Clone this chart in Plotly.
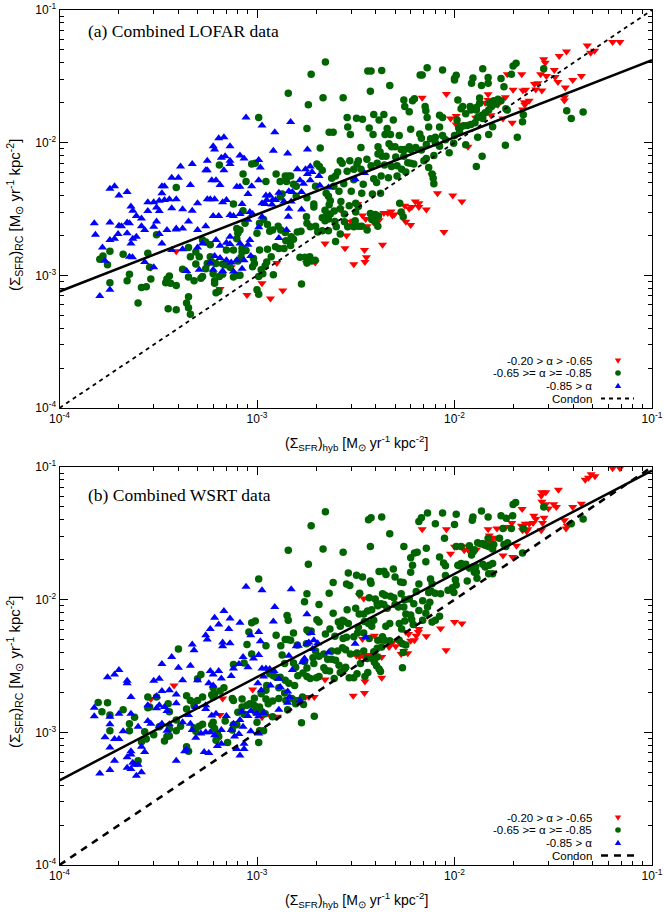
import plotly.graph_objects as go

# All surface densities below are in units of 1e-3 M_sun yr^-1 kpc^-2, as (hyb, RC) pairs.
UNIT = 1e-3

# ---------------- (a) Combined LOFAR data ----------------
LOFAR_FLAT = [  # -0.20 > alpha > -0.65
    (0.39, 1.52), (0.29, 1.14), (0.74, 1.15), (0.89, 0.71), (0.65, 0.79),
    (6.86, 21.8), (9.1, 23.3), (9.55, 15.2), (7.7, 5.7), (9.8, 4.0), (2.64, 3.13), (3.0, 2.53), (3.09, 2.58),
    (3.42, 2.82), (3.55, 2.66), (3.61, 2.34), (3.9, 2.5), (4.15, 2.6), (4.39, 2.95), (4.59, 2.95), (4.77, 3.03),
    (4.96, 2.87), (5.6, 3.35), (5.9, 3.17), (6.07, 3.28), (6.33, 3.6), (6.6, 3.5), (6.6, 3.28), (7.2, 3.13),
    (8.2, 4.15), (4.85, 2.82), (5.37, 2.9), (5.67, 2.53), (6.0, 2.4), (3.23, 3.45), (2.84, 2.0), (2.21, 1.74),
    (2.79, 1.6), (3.5, 1.55), (3.58, 1.37), (3.52, 1.26), (4.32, 1.7), (3.09, 1.21), (1.97, 1.25), (1.78, 1.24),
    (1.26, 1.24), (1.35, 0.77), (1.17, 0.67), (1.06, 0.87), (8.84, 2.12), (3.84, 2.87),
    (14.8, 23.2), (14.8, 21), (14.3, 20), (16.2, 20.2), (16.6, 19.3), (18.1, 22), (18.5, 32.8), (19.8, 25),
    (21.9, 32.8), (22.2, 24.7), (22.9, 25), (23.9, 20.7), (22.7, 19.3), (25.4, 27.7), (25.8, 25.2), (26.4, 28),
    (27.7, 24.7), (28.3, 42.5), (28.8, 40), (27.3, 32.8), (29.2, 31.8), (32, 35.3), (32.3, 31.2), (33.4, 28.7),
    (33.9, 45), (36.9, 48.7), (36.4, 26.1), (36, 22), (36, 20.8), (39.7, 29.7), (43.9, 31.8), (47, 54.1),
    (48.9, 47.7), (51.2, 49.4), (63.2, 57.4), (68.8, 57.4), (17.6, 15.2), (19.6, 14.1), (22.1, 17.8),
    (11.7, 9.3), (10.9, 3.6), (14.1, 16.1), (13.5, 16.1), (15.3, 16.1), (12.8, 15.4), (10.2, 15.9),
    (10.2, 13.7), (22.6, 20.2),
]

LOFAR_MID = [  # -0.65 >= alpha >= -0.85
    (0.645, 6.8), (0.85, 5.8), (0.88, 5.1), (0.94, 6.9), (0.98, 7.0), (0.39, 4.6), (0.76, 3.45), (0.85, 3.07),
    (0.31, 2.02), (0.28, 1.47), (0.21, 1.44), (0.18, 1.52), (0.16, 1.32), (0.166, 1.4), (0.175, 1.2),
    (0.286, 1.15), (0.226, 1.02), (0.22, 0.91), (0.18, 0.88), (0.29, 0.94), (0.26, 0.81), (0.275, 0.82),
    (0.25, 0.62), (0.36, 0.99), (0.35, 0.94), (0.345, 0.88), (0.365, 0.87), (0.39, 0.84), (0.42, 1.11),
    (0.45, 0.97), (0.48, 0.91), (0.45, 0.69), (0.44, 0.62), (0.45, 0.57), (0.46, 0.51), (0.39, 0.55),
    (0.355, 0.56), (0.53, 0.98), (0.52, 0.95), (0.55, 1.12), (0.56, 1.23), (0.58, 1.38), (0.59, 1.26),
    (0.55, 1.78), (0.53, 1.85), (0.45, 1.62), (0.46, 1.38), (0.49, 1.22), (0.51, 1.38), (0.60, 1.03),
    (0.61, 0.91), (0.61, 0.87), (0.62, 0.74), (0.64, 0.76), (0.67, 1.02), (0.67, 1.22), (0.69, 1.2),
    (0.73, 1.15), (0.76, 0.97), (0.79, 1.0), (0.82, 1.0), (0.80, 1.28), (0.83, 1.37), (0.84, 1.6), (0.84, 1.5),
    (0.88, 1.54), (0.96, 1.34), (0.95, 1.16), (0.97, 1.23), (1.0, 0.78), (0.80, 2.08), (0.79, 1.89),
    (0.79, 2.25), (0.82, 2.2), (0.87, 2.47), (1.0, 2.08), (0.49, 1.5), (0.62, 1.23), (0.58, 1.7), (0.70, 1.55),
    (0.76, 1.55), (0.645, 0.98),
    (2.22, 40.6), (1.88, 32.8), (3.64, 34.7), (3.78, 34.7), (4.28, 35), (7.27, 36.7), (8.7, 35.3), (10, 30.4),
    (6.7, 32.4), (6.86, 32.4), (4.7, 27), (1.44, 23.6), (2.16, 21.8), (2.73, 21.8), (3.75, 24.4), (1.82, 19.3),
    (5.54, 21), (6.13, 20.7), (6.27, 21.4), (5.6, 18.7), (5.9, 17.1), (7.1, 18.7), (7.16, 17.4), (2.86, 15.5),
    (3.19, 15.3), (3.42, 15.0), (3.9, 16.3), (4.15, 14.8), (4.39, 16.3), (4.9, 14.8), (8.4, 16.1), (8.7, 15.5),
    (7.27, 15.5), (7.4, 13.1), (2.88, 13.1), (2.97, 11.5), (1.02, 15.5), (1.79, 12.8), (2.32, 12.0),
    (2.43, 12.0), (3.7, 12.9), (3.87, 11.5), (4.56, 12.8), (4.45, 11.5), (4.74, 11.5), (5.25, 11.3),
    (6.0, 12.6), (6.67, 11.6), (6.8, 10.8), (7.56, 10.7), (8.0, 11.0), (8.4, 13.1), (8.7, 11.3), (2.09, 9.1),
    (3.36, 9.2), (4.1, 9.3), (4.2, 8.5), (4.66, 9.8), (4.8, 9.3), (5.0, 9.3), (5.37, 8.9), (5.6, 8.9),
    (5.9, 9.3), (6.0, 8.9), (6.36, 9.2), (6.8, 8.8), (7.2, 9.7), (8.0, 10), (8.4, 9.4), (9.0, 10.5),
    (9.4, 8.4), (9.9, 9.9), (2.95, 7.3), (2.64, 7.3), (2.7, 7.0), (3.26, 7.3), (3.6, 7.5), (4.1, 8.2),
    (4.3, 7.9), (4.5, 7.9), (5.04, 7.8), (5.54, 7.9), (5.8, 7.07), (6.0, 7.0), (7.0, 7.3), (7.2, 7.6),
    (7.86, 8.0), (2.01, 6.9), (2.07, 6.6), (2.14, 6.2), (2.56, 6.0), (2.86, 6.1), (3.09, 6.3), (3.21, 6.9),
    (3.36, 6.3), (3.78, 6.7), (4.06, 7.0), (4.42, 6.8), (4.8, 6.6), (5.12, 6.7), (5.4, 6.3), (5.67, 6.0),
    (6.22, 6.9), (7.4, 6.5), (7.7, 5.8), (7.8, 5.4), (7.86, 4.9), (1.25, 5.8), (1.39, 5.6), (1.44, 5.6),
    (1.48, 5.6), (1.31, 5.1), (1.41, 5.1), (1.11, 5.1), (1.53, 4.85), (1.58, 4.7), (2.5, 5.6), (2.39, 5.4),
    (2.45, 4.7), (2.75, 4.9), (3.09, 5.25), (3.45, 4.85), (3.9, 5.35), (4.03, 5.0), (4.25, 5.6), (4.63, 5.45),
    (5.12, 5.6), (1.98, 4.7), (2.24, 4.15), (2.3, 3.95), (2.6, 4.3), (3.0, 4.3), (3.39, 4.15), (3.84, 4.1),
    (4.22, 4.15), (1.34, 4.1), (1.31, 3.9), (1.58, 3.95), (1.79, 3.85), (1.94, 3.45), (1.94, 3.28),
    (2.35, 3.65), (2.32, 3.4), (2.21, 3.1), (2.26, 2.9), (2.35, 2.9), (2.46, 3.05), (2.66, 3.6), (2.93, 3.35),
    (3.16, 3.5), (2.64, 3.17), (2.77, 2.9), (3.16, 3.0), (3.26, 3.3), (3.75, 2.93), (3.84, 2.77), (3.97, 2.53),
    (4.09, 2.34), (3.97, 2.87), (4.12, 2.8), (3.81, 2.63), (2.77, 2.53), (2.88, 2.32), (3.09, 2.32),
    (2.48, 2.55), (2.52, 2.32), (2.14, 2.72), (2.21, 2.58), (2.3, 2.66), (1.78, 2.77), (1.79, 2.47),
    (1.86, 2.32), (1.98, 2.34), (2.03, 2.12), (2.14, 2.17), (2.3, 2.17), (2.64, 2.05), (3.14, 2.58),
    (3.26, 2.34), (3.39, 2.34), (5.28, 3.5), (5.37, 3.0), (5.5, 2.77), (3.61, 2.2), (1.03, 2.47), (1.08, 2.63),
    (1.13, 2.42), (1.16, 2.15), (1.2, 2.2), (1.28, 2.34), (1.32, 2.2), (1.39, 2.1), (1.49, 1.95), (1.6, 2.12),
    (1.67, 2.15), (1.4, 1.82), (1.48, 1.85), (1.53, 1.87), (1.24, 1.64), (1.29, 1.59), (1.37, 1.59),
    (1.48, 1.68), (1.03, 1.55), (1.13, 1.57), (1.18, 1.38), (1.12, 1.26), (1.1, 1.18), (1.05, 1.1),
    (1.02, 0.98), (1.07, 1.03), (1.21, 1.01), (1.02, 0.72), (1.68, 0.86), (1.65, 1.37), (1.75, 1.37),
    (1.85, 1.38), (1.97, 1.3), (1.89, 1.28), (1.79, 1.24), (2.5, 1.8),
    (10.2, 32.2), (10, 29.7), (12.4, 30.7), (12.2, 28), (13.7, 27), (14.8, 28), (14.8, 31), (13.9, 36.1),
    (19.8, 37.8), (20.5, 39.6), (17.2, 30.4), (17.8, 26.4), (19.4, 32.8), (28.3, 36.1), (10.4, 21), (11, 18.7),
    (10.8, 18), (11.4, 16.5), (12, 18.7), (12.1, 17.6), (12.5, 18), (12.9, 18.4), (12.9, 17.6), (13.4, 21.7),
    (13.4, 19.8), (13.1, 15.5), (13.8, 16.1), (14.3, 16.8), (14.9, 17.6), (15, 19.8), (15.8, 20.7),
    (16.2, 19.6), (16.6, 21.2), (17.2, 20.7), (15.4, 18.7), (10.3, 14.8), (10.5, 12.9), (10.8, 13.2),
    (11.1, 13.4), (11.6, 13.5), (12.1, 13.7), (12.7, 14.1), (13.9, 15.2), (15.6, 13.2), (10, 11.3), (10.6, 12),
    (13.1, 11), (14.9, 11.5), (18.2, 18), (18.5, 17.6), (22.3, 16.2), (22.1, 14.4), (20.8, 11), (18.1, 9.55),
    (11.4, 9.65), (13.8, 7.9), (12.9, 6.6), (37, 17.4), (39, 15.2), (44.8, 17.0),
]

LOFAR_STEEP = [  # -0.85 > alpha
    (0.88, 15.5), (0.64, 10.8), (0.68, 11.0), (0.60, 9.4), (0.61, 8.9), (0.73, 9.4), (0.56, 7.3), (0.66, 7.7),
    (0.69, 7.9), (0.73, 7.3), (0.73, 6.9), (0.82, 8.0), (0.86, 7.6), (0.47, 6.9), (0.56, 6.2), (0.55, 6.2),
    (0.68, 6.2), (0.41, 6.6), (0.37, 5.45), (0.40, 5.45), (0.46, 4.8), (0.59, 5.2), (0.62, 5.2), (0.65, 4.8),
    (0.79, 4.65), (0.82, 4.65), (0.94, 4.7), (0.18, 4.5), (0.19, 4.7), (0.20, 4.0), (0.22, 4.25), (0.33, 4.7),
    (0.34, 4.7), (0.33, 4.15), (0.39, 3.74), (0.37, 3.2), (0.42, 3.15), (0.47, 3.07), (0.50, 3.5), (0.56, 3.75),
    (0.58, 3.75), (0.61, 3.75), (0.67, 3.55), (0.70, 3.7), (0.84, 3.45), (0.90, 4.1), (0.92, 3.0), (0.23, 3.3),
    (0.235, 3.07), (0.245, 2.8), (0.26, 2.68), (0.28, 3.55), (0.30, 3.55), (0.32, 3.65), (0.31, 3.25),
    (0.32, 3.05), (0.28, 3.05), (0.34, 3.7), (0.36, 3.75), (0.15, 2.47), (0.18, 2.5), (0.20, 2.36),
    (0.206, 2.34), (0.22, 2.5), (0.226, 2.47), (0.26, 2.34), (0.31, 2.55), (0.30, 2.32), (0.35, 2.2),
    (0.39, 2.22), (0.42, 2.25), (0.45, 2.55), (0.50, 2.2), (0.55, 2.34), (0.60, 2.8), (0.64, 2.8), (0.73, 2.85),
    (0.76, 2.8), (0.82, 2.9), (0.90, 2.62), (0.95, 2.9), (0.152, 2.02), (0.19, 1.89), (0.198, 2.05),
    (0.22, 2.08), (0.235, 1.89), (0.23, 1.74), (0.245, 1.95), (0.27, 2.2), (0.32, 2.05), (0.39, 2.25),
    (0.165, 1.62), (0.18, 1.85), (0.226, 1.38), (0.234, 1.37), (0.27, 1.26), (0.30, 1.15), (0.33, 1.74),
    (0.37, 1.55), (0.42, 1.57), (0.50, 1.62), (0.53, 1.74), (0.62, 1.85), (0.65, 1.67), (0.70, 1.76),
    (0.73, 1.72), (0.73, 1.95), (0.82, 1.74), (0.90, 1.7), (0.92, 1.85), (0.17, 1.29), (0.58, 1.25),
    (0.65, 1.35), (0.70, 1.3), (0.74, 1.25), (0.79, 1.3), (0.86, 1.3), (0.93, 1.4), (0.44, 1.08), (0.51, 1.1),
    (0.60, 1.1), (0.67, 1.08), (0.76, 1.07), (0.84, 1.12), (0.16, 0.70), (0.18, 0.78), (0.61, 1.4),
    (1.06, 13.5), (1.23, 12), (1.48, 14.3), (1.21, 8.7), (1.43, 8.3), (1.8, 8.9), (1.02, 7.4), (1.04, 6.5),
    (1.6, 6.3), (1.76, 6.3), (1.86, 6.6), (1.9, 6.0), (1.8, 5.8), (2.06, 5.6), (1.02, 5.2), (1.65, 5.2),
    (1.72, 4.9), (1.86, 5.2), (2.08, 4.75), (2.3, 4.6), (3.14, 5.3), (3.5, 5.9), (1.29, 4.2), (1.45, 4.3),
    (1.51, 4.25), (1.68, 4.25), (1.11, 4.0), (1.16, 4.0), (1.12, 3.7), (1.2, 3.7), (1.24, 3.7), (1.06, 3.5),
    (1.1, 3.45), (1.19, 3.42), (1.37, 3.6), (1.49, 3.6), (1.45, 3.17), (1.68, 3.13), (1.06, 2.77),
    (1.44, 2.77), (1.41, 2.2), (1.29, 1.91), (1.02, 2.3),
]

# ---------------- (b) Combined WSRT data ----------------
WSRT_FLAT = [  # -0.20 > alpha > -0.65
    (0.29, 1.78), (0.38, 2.25), (0.67, 1.8), (0.65, 1.35), (0.88, 1.4), (0.95, 2.1),
    (6.86, 34), (9.1, 34), (9.55, 22.2), (3.29, 10.8), (3.47, 10.2), (3.42, 5.05), (3.93, 5.35), (4.25, 4.95),
    (4.74, 4.6), (4.66, 4.4), (4.85, 4.75), (5.04, 4.45), (5.28, 4.75), (5.67, 5.7), (5.85, 5.5), (6.0, 4.9),
    (6.27, 4.95), (6.4, 5.35), (6.56, 5.7), (6.6, 6.0), (7.2, 5.3), (7.76, 6.8), (8.5, 6.05), (9.06, 4.15),
    (5.37, 3.9), (5.54, 4.1), (5.8, 3.95), (4.28, 2.58), (4.28, 3.7), (3.75, 3.82), (3.84, 3.62), (4.03, 3.78),
    (3.61, 3.62), (3.45, 3.78), (3.31, 3.7), (3.19, 3.78), (3.09, 3.97), (2.81, 3.0), (2.68, 2.83),
    (2.21, 2.5), (3.52, 2.42), (3.5, 1.98), (3.07, 1.89), (1.95, 1.85), (1.83, 1.85), (1.76, 1.85),
    (1.17, 1.33), (1.27, 1.31), (1.06, 1.3),
    (10, 25), (11.2, 23.6), (11.7, 23.8), (11, 25.2), (12.9, 23.8), (14.8, 34), (15, 30.4), (14.8, 26.4),
    (15.2, 28), (15.7, 29), (16.2, 29.3), (16.4, 34.4), (17.6, 21.5), (18.2, 35.3), (19.5, 37.8), (19.7, 21),
    (20.6, 25.5), (21.8, 36.1), (22, 48.2), (22.1, 33.3), (22.8, 37.4), (23.2, 32.8), (23.5, 34), (23.9, 37.4),
    (25, 37.8), (25.2, 43), (25.8, 40.6), (27.5, 33.3), (27.9, 37.8), (28.4, 41.4), (27.7, 54.7), (27.7, 64.4),
    (29, 64.4), (27.5, 60.8), (29, 52.3), (29.9, 48.7), (31.8, 52.3), (32.8, 49.9), (33.6, 67.5), (36, 39.6),
    (36.7, 34.4), (37.2, 36.1), (39.7, 49.9), (43.9, 52.9), (45.9, 80.2), (47.7, 83.1), (49.2, 88), (51.4, 85),
    (63.2, 98), (68.8, 98), (11.8, 17.3), (10.9, 6.6), (10, 6.8), (13.9, 27),
]

WSRT_MID = [  # -0.65 >= alpha >= -0.85
    (0.98, 6.9), (0.94, 6.7), (0.91, 5.7), (0.89, 4.6), (0.94, 3.9), (0.86, 3.33), (0.76, 3.25), (0.40, 4.25),
    (0.52, 2.73), (0.50, 2.53), (0.60, 2.17), (0.65, 2.05), (0.68, 2.17), (0.44, 1.89), (0.46, 1.74),
    (0.48, 1.59), (0.50, 1.74), (0.53, 1.85), (0.59, 1.92), (0.60, 1.85), (0.61, 1.95), (0.157, 1.68),
    (0.164, 1.43), (0.175, 1.67), (0.18, 1.35), (0.21, 1.48), (0.28, 1.85), (0.28, 1.53), (0.31, 1.85),
    (0.355, 1.64), (0.36, 1.43), (0.44, 1.5), (0.39, 1.24), (0.41, 1.11), (0.39, 1.03), (0.36, 1.07),
    (0.36, 0.94), (0.34, 0.86), (0.35, 0.93), (0.30, 0.96), (0.275, 0.89), (0.27, 1.01), (0.26, 0.85),
    (0.226, 1.16), (0.226, 1.03), (0.18, 1.03), (0.25, 0.61), (0.44, 0.78), (0.45, 0.72), (0.48, 1.08),
    (0.51, 1.11), (0.53, 1.15), (0.59, 1.14), (0.60, 1.19), (0.61, 1.07), (0.63, 0.98), (0.64, 0.93),
    (0.62, 0.87), (0.69, 1.22), (0.71, 0.84), (0.75, 1.04), (0.76, 1.14), (0.79, 1.14), (0.80, 1.42),
    (0.84, 1.55), (0.86, 1.37), (0.89, 1.6), (0.92, 1.64), (0.97, 1.59), (0.97, 1.81), (0.98, 1.43),
    (1.0, 1.19), (0.84, 1.78), (0.75, 1.8), (0.76, 1.74), (0.49, 1.02), (0.286, 1.55), (0.32, 1.1), (0.24, 1.3),
    (2.22, 46), (1.88, 36.1), (3.67, 40), (3.78, 41.4), (4.28, 42), (7.3, 45), (8.7, 45), (6.8, 41.4),
    (6.6, 38.8), (8.0, 37.4), (4.7, 31.4), (1.44, 23.6), (2.16, 24.1), (2.73, 22.8), (3.75, 25.2), (1.82, 18.5),
    (8.9, 29), (5.54, 25.2), (6.27, 22.5), (6.47, 22.8), (6.0, 20.7), (6.13, 18.2), (7.16, 19.3), (7.2, 24.4),
    (8.4, 21), (8.8, 18.9), (9.0, 18), (2.9, 15.9), (3.19, 15.3), (3.42, 14.8), (3.75, 13.8), (3.78, 13.3),
    (4.39, 16.4), (4.5, 15.5), (4.15, 16.3), (4.9, 17), (5.0, 14.8), (5.33, 13.6), (5.5, 13.5), (6.0, 16.1),
    (6.6, 13.1), (7.56, 14.3), (7.7, 13.2), (9.0, 15.2), (1.02, 14.3), (1.79, 11.1), (2.32, 11.2), (2.43, 13.5),
    (2.84, 13.1), (2.95, 12.8), (3.31, 11.2), (3.7, 10.35), (3.97, 10.1), (4.06, 9.3), (4.32, 11.1),
    (4.45, 10.8), (4.74, 10.6), (4.93, 10.35), (5.37, 11.1), (5.6, 10), (5.9, 10.1), (6.22, 9.3), (6.4, 11.5),
    (6.9, 9.8), (7.4, 11.3), (7.6, 11.6), (7.97, 11.2), (8.5, 11.1), (9.27, 11.8), (9.76, 12.3), (9.93, 11.3),
    (1.74, 9.65), (1.42, 7.6), (1.44, 7.0), (2.06, 9.2), (2.43, 7.9), (2.86, 8.4), (3.16, 8.6), (3.29, 7.8),
    (3.47, 7.8), (3.63, 8.2), (3.81, 8.4), (4.09, 9.0), (4.25, 9.3), (4.39, 9.2), (4.56, 8.6), (5.0, 9.2),
    (5.2, 8.8), (5.54, 8.8), (5.67, 7.8), (6.0, 7.65), (6.6, 8.3), (7.16, 7.9), (7.3, 8.8), (7.5, 9.55),
    (2.01, 7.07), (2.06, 6.8), (2.34, 6.0), (2.58, 6.8), (2.71, 7.0), (2.64, 6.3), (2.77, 6.85), (2.9, 6.6),
    (3.26, 6.2), (3.5, 6.85), (3.67, 6.6), (3.81, 6.3), (3.9, 7.0), (4.49, 6.3), (4.7, 6.6), (5.25, 6.6),
    (5.4, 6.0), (5.6, 6.9), (6.18, 6.5), (6.07, 7.1), (6.9, 7.0), (7.7, 6.8), (8.0, 7.0), (8.4, 7.5),
    (1.25, 5.4), (1.32, 4.5), (1.39, 5.0), (1.43, 5.0), (1.48, 4.95), (1.53, 5.6), (1.6, 4.55), (1.78, 4.65),
    (1.79, 5.9), (1.83, 5.7), (1.88, 5.8), (1.11, 4.5), (2.22, 5.5), (2.48, 5.3), (2.73, 5.1), (2.84, 5.2),
    (3.09, 5.25), (3.23, 5.6), (3.47, 5.6), (3.7, 5.1), (4.09, 4.95), (4.32, 5.25), (4.42, 4.95), (4.7, 4.9),
    (5.25, 4.95), (5.45, 4.65), (5.5, 4.0), (5.67, 4.55), (1.98, 4.1), (2.06, 3.75), (2.18, 3.9), (2.39, 4.1),
    (2.56, 4.1), (2.71, 4.35), (2.81, 4.2), (2.97, 3.9), (3.21, 3.97), (3.47, 4.1), (3.9, 4.05), (4.06, 4.3),
    (4.28, 4.4), (1.34, 3.82), (1.38, 3.3), (1.53, 3.33), (1.57, 3.1), (1.74, 3.42), (1.79, 3.05), (1.92, 3.65),
    (1.94, 3.3), (2.28, 3.55), (2.39, 3.55), (2.5, 3.5), (2.6, 3.2), (2.81, 3.1), (3.34, 3.3), (3.61, 3.6),
    (3.84, 3.6), (3.93, 3.38), (4.03, 3.17), (4.15, 3.0), (4.22, 2.87), (4.06, 3.7), (2.18, 3.07), (2.23, 2.93),
    (2.33, 2.9), (2.46, 2.55), (2.64, 2.83), (2.77, 3.0), (2.93, 2.58), (3.09, 2.58), (3.21, 2.77), (3.52, 2.63),
    (3.64, 2.83), (5.45, 3.07), (1.16, 2.77), (1.21, 2.67), (1.25, 2.6), (1.31, 2.6), (1.39, 2.47), (1.45, 2.34),
    (1.55, 2.25), (1.61, 2.67), (1.71, 2.8), (1.79, 2.63), (1.86, 2.55), (2.06, 2.63), (1.12, 2.25), (1.05, 1.95),
    (1.11, 1.78), (1.14, 1.64), (1.2, 1.72), (1.29, 1.8), (1.38, 1.98), (1.4, 1.74), (1.5, 1.8), (1.56, 1.74),
    (1.63, 1.74), (1.03, 1.55), (1.06, 1.43), (1.1, 1.38), (1.03, 1.03), (1.08, 1.03), (1.02, 0.84), (1.2, 1.31),
    (1.43, 1.48), (1.68, 1.18), (1.95, 1.32), (1.57, 1.64), (1.7, 1.85), (1.72, 1.62), (2.0, 2.58), (1.11, 2.08),
    (1.29, 2.17),
    (10.2, 44), (10, 36.9), (12.4, 42), (12.3, 39.6), (13.7, 46.6), (14.8, 42), (18.3, 41), (19.7, 43),
    (19.8, 52.2), (20.4, 54.1), (17.2, 43), (17.6, 34.4), (19.4, 34.4), (28.3, 50), (10.2, 25.2), (10.8, 25.2),
    (11.9, 25.5), (12.2, 21.7), (12.4, 23), (12.6, 23.8), (13.1, 26.8), (13.5, 26.4), (13.9, 26.4), (14.2, 25.8),
    (14.6, 25.5), (14.8, 29), (15, 25), (15.4, 25.2), (15.6, 24.1), (15.8, 26.1), (16.9, 29), (17.8, 26.1),
    (18.2, 25.2), (18.6, 26.8), (10.4, 18.2), (10.6, 18), (10.8, 18.7), (11, 17.8), (11.4, 18.5), (11.9, 17.3),
    (12.4, 17.6), (12.8, 17.8), (12.6, 16.1), (12.9, 16.1), (13.0, 14.5), (13.9, 18.5), (14.3, 17.6),
    (15, 18.2), (14.9, 15.7), (15.6, 15.7), (15.6, 18.7), (10.1, 14.1), (10.2, 12.9), (11.6, 13.8),
    (22.3, 34.4), (22.1, 22.5), (39, 37.4), (44.8, 40.6),
]

WSRT_STEEP = [  # -0.85 > alpha
    (0.88, 12.5), (0.68, 8.2), (0.61, 7.3), (0.73, 7.2), (0.82, 6.7), (0.64, 6.5), (0.58, 6.0), (0.72, 6.0),
    (0.55, 5.4), (0.56, 5.0), (0.47, 4.6), (0.48, 4.15), (0.67, 4.75), (0.73, 4.7), (0.67, 4.45), (0.93, 5.4),
    (0.85, 3.7), (0.81, 3.28), (0.90, 3.1), (0.96, 3.6), (0.37, 3.7), (0.33, 3.28), (0.46, 3.17), (0.40, 3.07),
    (0.58, 2.9), (0.60, 2.73), (0.64, 2.9), (0.66, 2.55), (0.74, 2.66), (0.76, 3.03), (0.175, 2.6),
    (0.19, 2.73), (0.20, 2.95), (0.22, 2.45), (0.22, 2.34), (0.30, 2.45), (0.32, 2.53), (0.42, 2.47),
    (0.50, 2.47), (0.57, 2.34), (0.60, 2.25), (0.36, 2.08), (0.33, 2.05), (0.31, 1.87), (0.39, 1.93),
    (0.39, 1.66), (0.23, 1.85), (0.15, 1.53), (0.15, 1.32), (0.18, 1.31), (0.20, 1.38), (0.23, 1.38),
    (0.28, 1.6), (0.31, 1.52), (0.32, 1.6), (0.34, 1.55), (0.35, 1.45), (0.49, 1.55), (0.55, 1.5), (0.55, 1.6),
    (0.59, 1.34), (0.62, 1.38), (0.70, 1.33), (0.84, 1.43), (0.90, 1.33), (0.93, 1.45), (1.0, 1.38),
    (0.45, 1.35), (0.76, 1.16), (0.82, 1.24), (0.85, 1.1), (0.18, 1.15), (0.17, 0.92), (0.19, 0.89),
    (0.20, 0.89), (0.21, 1.02), (0.25, 1.1), (0.28, 1.22), (0.29, 1.16), (0.32, 1.11), (0.33, 1.16),
    (0.36, 1.15), (0.42, 1.19), (0.46, 1.16), (0.47, 1.04), (0.49, 0.91), (0.52, 0.98), (0.55, 1.0),
    (0.58, 1.0), (0.61, 0.95), (0.66, 1.04), (0.74, 1.04), (0.77, 0.93), (0.81, 0.97), (0.93, 1.02),
    (1.02, 0.98), (0.18, 0.77), (0.19, 0.61), (0.23, 0.72), (0.23, 0.68), (0.22, 0.65), (0.27, 0.71),
    (0.26, 0.78), (0.235, 0.59), (0.24, 0.57), (0.25, 0.57), (0.22, 0.54), (0.23, 0.53), (0.26, 0.50),
    (0.16, 0.49), (0.18, 0.52), (0.245, 0.47), (0.39, 0.61), (0.44, 0.74), (0.43, 0.72), (0.54, 0.71),
    (0.57, 0.70), (0.63, 0.79), (0.66, 0.82), (0.79, 0.75), (0.86, 0.75), (0.86, 0.82), (0.82, 0.67),
    (0.35, 1.03),
    (1.06, 11.8), (1.49, 12), (1.23, 8.8), (1.21, 6.85), (1.79, 7.75), (1.02, 5.7), (1.04, 4.85), (1.58, 4.45),
    (1.62, 4.5), (1.79, 4.65), (1.83, 4.75), (1.94, 4.95), (2.03, 4.7), (1.91, 4.25), (1.88, 5.6), (3.14, 4.65),
    (3.55, 5.2), (1.02, 3.82), (1.45, 3.78), (1.72, 3.5), (1.7, 3.38), (1.74, 3.6), (1.51, 2.95), (2.3, 4.0),
    (1.06, 3.03), (1.11, 3.03), (1.16, 3.0), (1.22, 2.9), (1.29, 2.53), (1.08, 2.63), (1.01, 2.34),
    (1.17, 2.25), (1.05, 2.08), (1.31, 2.2), (1.43, 2.03), (1.46, 1.85), (1.43, 1.67), (1.65, 1.74),
    (1.29, 1.48), (1.08, 1.4), (1.02, 1.32),
]

# Fitted relations and the Condon relation (end points, M_sun yr^-1 kpc^-2)
LINE_X = [1e-4, 1e-1]
LOFAR_FIT_Y = [7.55e-4, 4.19e-2]
WSRT_FIT_Y = [4.35e-4, 9.4e-2]
CONDON_Y = [1e-4, 1e-1]

LEGEND_LABELS = ["-0.20 > \u03b1 > -0.65", "-0.65 >= \u03b1 >= -0.85", "-0.85 > \u03b1", "Condon"]
PANEL_TITLES = ["(a) Combined LOFAR data", "(b) Combined WSRT data"]
MAJOR_TICKS = [1e-4, 1e-3, 1e-2, 1e-1]
MAJOR_TEXT = ["10<sup>-4</sup>", "10<sup>-3</sup>", "10<sup>-2</sup>", "10<sup>-1</sup>"]
MINOR_TICKS = [m * d for d in (1e-4, 1e-3, 1e-2) for m in range(2, 10)]

RED, GREEN, BLUE = "#ff0000", "#006400", "#0000ff"
W, H = 664, 912
SANS = "Liberation Sans"
SERIF = "Liberation Serif"


def px(x):
    return x / W


def py(y):
    return 1 - y / H


fig = go.Figure()

panels = [
    dict(xa="x", ya="y", data=(LOFAR_FLAT, LOFAR_MID, LOFAR_STEEP), fit=LOFAR_FIT_Y, cdash="4px,4px", cw=1.8,
         top=10, bot=408),
    dict(xa="x2", ya="y2", data=(WSRT_FLAT, WSRT_MID, WSRT_STEEP), fit=WSRT_FIT_Y, cdash="7px,6px", cw=2.6,
         top=467, bot=865),
]

styles = [("triangle-down", RED, 8), ("circle", GREEN, 7.5), ("triangle-up", BLUE, 8)]

for p in panels:
    for pts, (sym, col, size), name in zip(p["data"], styles, LEGEND_LABELS):
        fig.add_trace(go.Scatter(
            x=[a * UNIT for a, b in pts], y=[b * UNIT for a, b in pts], mode="markers", name=name,
            marker=dict(symbol=sym, color=col, size=size, line=dict(width=0)),
            xaxis=p["xa"], yaxis=p["ya"], showlegend=False, cliponaxis=True))
    fig.add_trace(go.Scatter(x=LINE_X, y=p["fit"], mode="lines", line=dict(color="black", width=2.5),
                             xaxis=p["xa"], yaxis=p["ya"], showlegend=False))
    fig.add_trace(go.Scatter(x=LINE_X, y=CONDON_Y, mode="lines",
                             line=dict(color="black", width=p["cw"], dash=p["cdash"]),
                             xaxis=p["xa"], yaxis=p["ya"], showlegend=False))


def axis(domain, anchor):
    return dict(
        type="log", range=[-4, -1], domain=domain, anchor=anchor, automargin=False,
        showline=True, linecolor="black", linewidth=1, mirror="ticks",
        ticks="inside", ticklen=8, tickwidth=1, tickcolor="black",
        tickmode="array", tickvals=MAJOR_TICKS, ticktext=MAJOR_TEXT,
        minor=dict(tickmode="array", tickvals=MINOR_TICKS, ticks="inside", ticklen=4, tickwidth=1,
                   tickcolor="black", showgrid=False),
        showgrid=False, zeroline=False,
        tickfont=dict(family=SANS, size=12, color="black"),
    )


XDOM = [px(59.5), px(652)]
fig.update_layout(
    width=W, height=H, margin=dict(l=0, r=0, t=0, b=0, autoexpand=False),
    paper_bgcolor="white", plot_bgcolor="white", showlegend=False,
    xaxis=axis(XDOM, "y"),
    yaxis=axis([py(408), py(10)], "x"),
    xaxis2=axis(XDOM, "y2"),
    yaxis2=axis([py(865), py(467)], "x2"),
)

XTITLE = "(\u03a3<sub>SFR</sub>)<sub>hyb</sub> [M<sub>\u2299</sub> yr<sup>-1</sup> kpc<sup>-2</sup>]"
YTITLE = "(\u03a3<sub>SFR</sub>)<sub>RC</sub> [M<sub>\u2299</sub> yr<sup>-1</sup> kpc<sup>-2</sup>]"

annotations = []
shapes = []
for i, p in enumerate(panels):
    top, bot = p["top"], p["bot"]
    annotations.append(dict(text=XTITLE, x=px(356), y=py(bot + 35), xref="paper", yref="paper",
                            showarrow=False, xanchor="center", yanchor="middle",
                            font=dict(family=SANS, size=14, color="black")))
    annotations.append(dict(text=YTITLE, x=px(14), y=py((top + bot) / 2 + 6), xref="paper", yref="paper",
                            showarrow=False, textangle=-90, xanchor="center", yanchor="middle",
                            font=dict(family=SANS, size=15, color="black")))
    annotations.append(dict(text=PANEL_TITLES[i], x=px(86), y=py(top + 21 + 7 * i), xref="paper", yref="paper",
                            showarrow=False, xanchor="left", yanchor="middle",
                            font=dict(family=SERIF, size=17.5, color="black")))
    rows = [bot - 47, bot - 35, bot - 22.5, bot - 9.5]
    for lab, ry in zip(LEGEND_LABELS, rows):
        annotations.append(dict(text=lab, x=px(594), y=py(ry), xref="paper", yref="paper",
                                showarrow=False, xanchor="right", yanchor="middle",
                                font=dict(family=SANS, size=11.5, color="black")))
    cx = 618
    r = rows[0]
    shapes.append(dict(type="path", xref="paper", yref="paper", layer="above",
                       path=f"M {px(cx-3.2)},{py(r-2.6)} L {px(cx+3.2)},{py(r-2.6)} L {px(cx)},{py(r+2.8)} Z",
                       fillcolor=RED, line=dict(width=0)))
    g = rows[1]
    shapes.append(dict(type="circle", xref="paper", yref="paper", layer="above",
                       x0=px(cx - 2.8), x1=px(cx + 2.8), y0=py(g + 2.8), y1=py(g - 2.8),
                       fillcolor=GREEN, line=dict(width=0)))
    b = rows[2]
    shapes.append(dict(type="path", xref="paper", yref="paper", layer="above",
                       path=f"M {px(cx-3.2)},{py(b+2.6)} L {px(cx+3.2)},{py(b+2.6)} L {px(cx)},{py(b-2.8)} Z",
                       fillcolor=BLUE, line=dict(width=0)))
    c = rows[3]
    shapes.append(dict(type="line", xref="paper", yref="paper", layer="above",
                       x0=px(601), x1=px(634), y0=py(c), y1=py(c),
                       line=dict(color="black", width=p["cw"], dash=p["cdash"])))

fig.update_layout(annotations=annotations, shapes=shapes)

fig.write_html("out.html", config=dict(displayModeBar=False),
               post_script="document.body.style.margin='0';document.body.style.overflow='hidden';")
